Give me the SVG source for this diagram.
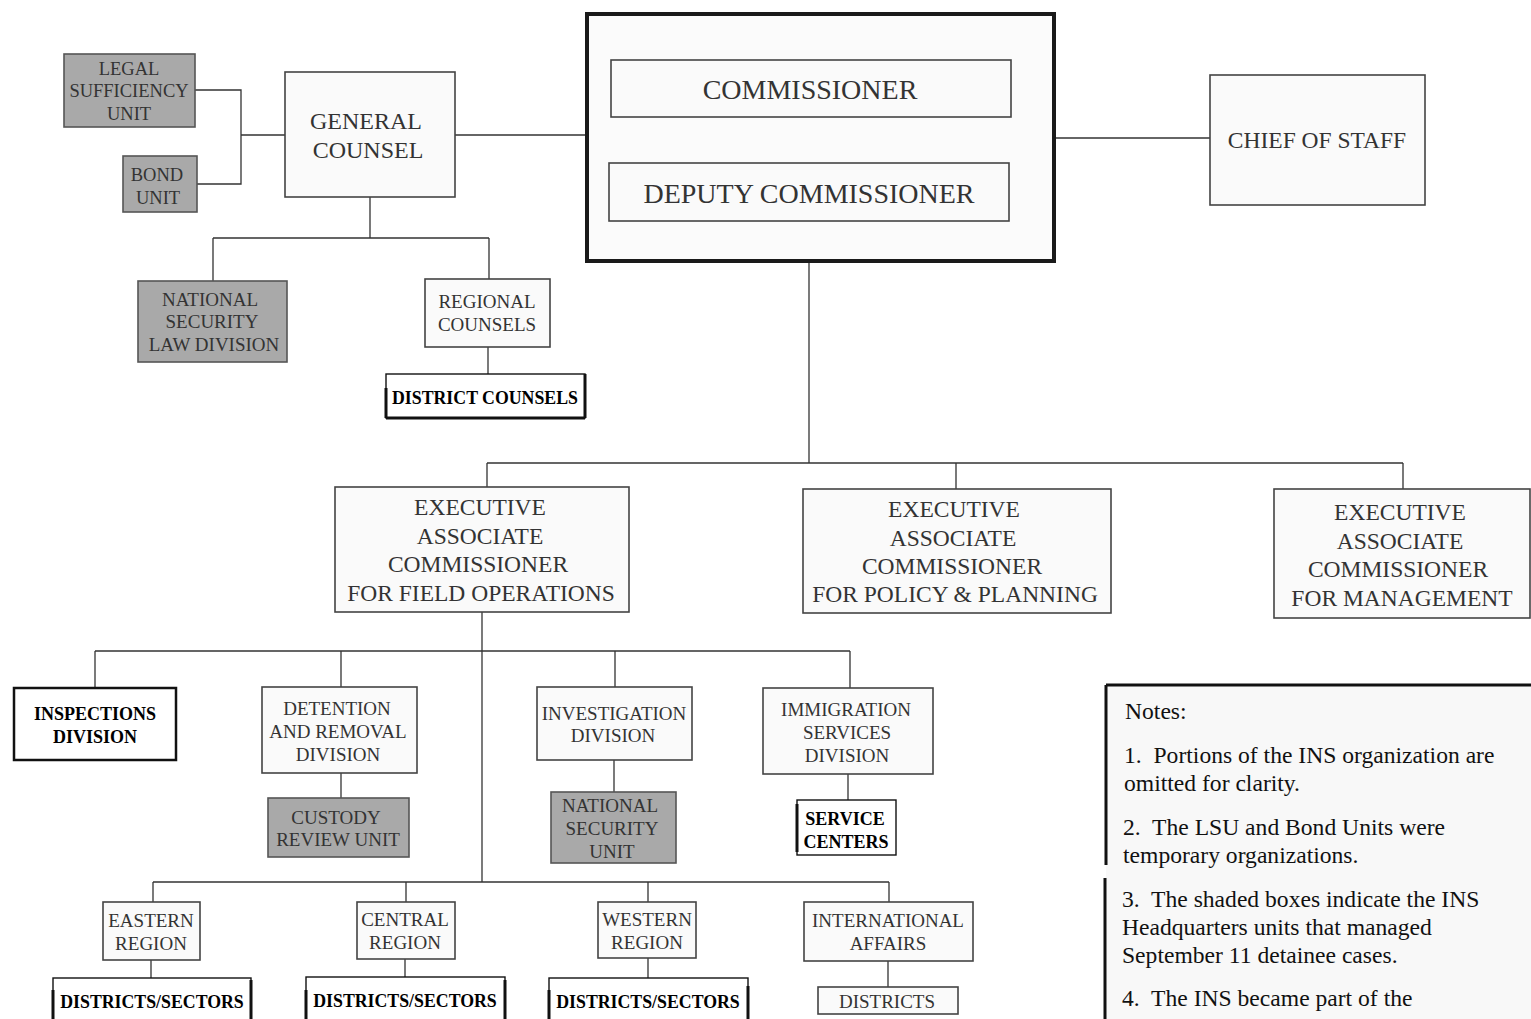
<svg xmlns="http://www.w3.org/2000/svg" width="1531" height="1019" viewBox="0 0 1531 1019">
<style>
.bx{fill:#fafafa;stroke:#444;stroke-width:1.6}
.sh{fill:#a9a9a9;stroke:#555;stroke-width:1.6}
.wb{fill:#fff;stroke:#111;stroke-width:1.4}
.t{font-family:"Liberation Serif","Times New Roman",serif;fill:#333;text-anchor:middle}
.tb{font-family:"Liberation Serif","Times New Roman",serif;fill:#000;font-weight:bold;text-anchor:middle}
.n{font-family:"Liberation Serif","Times New Roman",serif;fill:#111;font-size:23.6px}
.c{fill:none;stroke:#333;stroke-width:1.3}
.thk{fill:none;stroke:#111;stroke-width:3}
</style>
<rect width="1531" height="1019" fill="#fff"/>
<g id="connectors">
<path class="c" d="M195,90 H241 V184 H197 M241,135 H285"/>
<path class="c" d="M455,135 H587"/>
<path class="c" d="M1055,138 H1210"/>
<path class="c" d="M810,117 V163"/>
<path class="c" d="M809,221 V463"/>
<path class="c" d="M487,463 H1403 M487,463 V487 M956,463 V489 M1403,463 V490"/>
<path class="c" d="M370,197 V238 M213,238 H489 M213,238 V281 M489,238 V279"/>
<path class="c" d="M488,347 V374"/>
<path class="c" d="M482,612 V882"/>
<path class="c" d="M95,651 H850 M341,651 V687 M615,651 V687 M850,651 V688"/>
<path class="c" d="M95,651 V688" stroke-width="2.2"/>
<path class="c" d="M341,773 V798"/>
<path class="c" d="M614,760 V792" stroke="#999"/>
<path class="c" d="M848,774 V800"/>
<path class="c" d="M153,882 H889 M406,882 V902 M648,882 V902 M889,882 V902"/>
<path class="c" d="M153,882 V902" stroke="#aaa"/>
<path class="c" d="M151,960 V978 M405,959 V977 M648,958 V978 M888,961 V987"/>
</g>
<g id="legal-sufficiency-unit">
<rect class="sh" x="64" y="54" width="131" height="73"/>
<text class="t" font-size="18.5"><tspan x="129" y="75">LEGAL</tspan><tspan x="129" y="97">SUFFICIENCY</tspan><tspan x="129" y="120">UNIT</tspan></text>
</g>
<g id="bond-unit">
<rect class="sh" x="123" y="156" width="74" height="56"/>
<text class="t" font-size="18.5"><tspan x="157" y="181">BOND</tspan><tspan x="158" y="204">UNIT</tspan></text>
</g>
<g id="general-counsel">
<rect class="bx" x="285" y="72" width="170" height="125"/>
<text class="t" font-size="24"><tspan x="366" y="129">GENERAL</tspan><tspan x="368" y="158">COUNSEL</tspan></text>
</g>
<g id="commissioner-office">
<rect x="587" y="14" width="467" height="247" fill="#fbfbfb" stroke="#1a1a1a" stroke-width="4"/>
</g>
<g id="commissioner">
<rect class="bx" x="611" y="60" width="400" height="57"/>
<text class="t" font-size="28" x="810" y="99">COMMISSIONER</text>
</g>
<g id="deputy-commissioner">
<rect class="bx" x="609" y="163" width="400" height="58"/>
<text class="t" font-size="28" x="809" y="203">DEPUTY COMMISSIONER</text>
</g>
<g id="chief-of-staff">
<rect class="bx" x="1210" y="75" width="215" height="130"/>
<text class="t" font-size="23.5" x="1317" y="148">CHIEF OF STAFF</text>
</g>
<g id="national-security-law-division">
<rect class="sh" x="138" y="281" width="149" height="81"/>
<text class="t" font-size="19"><tspan x="210" y="306">NATIONAL</tspan><tspan x="212" y="328">SECURITY</tspan><tspan x="214" y="351">LAW DIVISION</tspan></text>
</g>
<g id="regional-counsels">
<rect class="bx" x="425" y="279" width="125" height="68"/>
<text class="t" font-size="19"><tspan x="487" y="308">REGIONAL</tspan><tspan x="487" y="331">COUNSELS</tspan></text>
</g>
<g id="district-counsels">
<rect class="wb" x="386" y="374" width="199" height="44"/>
<path class="thk" d="M386,388 V418 M585,374 V418 M386,418 H585"/>
<text class="tb" font-size="17.8" x="485" y="404">DISTRICT COUNSELS</text>
</g>
<g id="eac-field-operations">
<rect class="bx" x="335" y="487" width="294" height="125"/>
<text class="t" font-size="23.5"><tspan x="480" y="515">EXECUTIVE</tspan><tspan x="480" y="544">ASSOCIATE</tspan><tspan x="478" y="572">COMMISSIONER</tspan><tspan x="481" y="601">FOR FIELD OPERATIONS</tspan></text>
</g>
<g id="eac-policy-planning">
<rect class="bx" x="803" y="489" width="308" height="124"/>
<text class="t" font-size="23.5"><tspan x="954" y="517">EXECUTIVE</tspan><tspan x="953" y="546">ASSOCIATE</tspan><tspan x="952" y="574">COMMISSIONER</tspan><tspan x="955" y="602">FOR POLICY &amp; PLANNING</tspan></text>
</g>
<g id="eac-management">
<rect class="bx" x="1274" y="489" width="256" height="129"/>
<text class="t" font-size="23.5"><tspan x="1400" y="520">EXECUTIVE</tspan><tspan x="1400" y="549">ASSOCIATE</tspan><tspan x="1398" y="577">COMMISSIONER</tspan><tspan x="1402" y="606">FOR MANAGEMENT</tspan></text>
</g>
<g id="inspections-division">
<rect x="14" y="688" width="162" height="72" fill="#fff" stroke="#111" stroke-width="2.5"/>
<text class="tb" font-size="18"><tspan x="95" y="720">INSPECTIONS</tspan><tspan x="95" y="743">DIVISION</tspan></text>
</g>
<g id="detention-removal-division">
<rect class="bx" x="262" y="687" width="155" height="86"/>
<text class="t" font-size="19"><tspan x="337" y="715">DETENTION</tspan><tspan x="338" y="738">AND REMOVAL</tspan><tspan x="338" y="761">DIVISION</tspan></text>
</g>
<g id="custody-review-unit">
<rect class="sh" x="268" y="798" width="141" height="59"/>
<text class="t" font-size="19"><tspan x="336" y="824">CUSTODY</tspan><tspan x="338" y="846">REVIEW UNIT</tspan></text>
</g>
<g id="investigation-division">
<rect class="bx" x="537" y="687" width="155" height="73"/>
<text class="t" font-size="19"><tspan x="614" y="720">INVESTIGATION</tspan><tspan x="613" y="742">DIVISION</tspan></text>
</g>
<g id="national-security-unit">
<rect class="sh" x="551" y="792" width="125" height="71"/>
<text class="t" font-size="19"><tspan x="610" y="812">NATIONAL</tspan><tspan x="612" y="835">SECURITY</tspan><tspan x="612" y="858">UNIT</tspan></text>
</g>
<g id="immigration-services-division">
<rect class="bx" x="763" y="688" width="170" height="86"/>
<text class="t" font-size="19"><tspan x="846" y="716">IMMIGRATION</tspan><tspan x="847" y="739">SERVICES</tspan><tspan x="847" y="762">DIVISION</tspan></text>
</g>
<g id="service-centers">
<rect class="wb" x="797" y="800" width="99" height="55"/>
<path class="thk" d="M797,804 V852"/>
<text class="tb" font-size="18"><tspan x="845" y="825">SERVICE</tspan><tspan x="846" y="848">CENTERS</tspan></text>
</g>
<g id="eastern-region">
<rect class="bx" x="103" y="902" width="97" height="58"/>
<text class="t" font-size="19"><tspan x="151" y="927">EASTERN</tspan><tspan x="151" y="950">REGION</tspan></text>
</g>
<g id="central-region">
<rect class="bx" x="357" y="902" width="98" height="57"/>
<text class="t" font-size="19"><tspan x="405" y="926">CENTRAL</tspan><tspan x="405" y="949">REGION</tspan></text>
</g>
<g id="western-region">
<rect class="bx" x="598" y="902" width="98" height="56"/>
<text class="t" font-size="19"><tspan x="647" y="926">WESTERN</tspan><tspan x="647" y="949">REGION</tspan></text>
</g>
<g id="international-affairs">
<rect class="bx" x="804" y="902" width="169" height="59"/>
<text class="t" font-size="19"><tspan x="888" y="927">INTERNATIONAL</tspan><tspan x="888" y="950">AFFAIRS</tspan></text>
</g>
<g id="districts-sectors-eastern">
<rect class="wb" x="53" y="978" width="198" height="50"/>
<path class="thk" d="M53,990 V1019 M251,980 V1019"/>
<text class="tb" font-size="17.8" x="152" y="1008">DISTRICTS/SECTORS</text>
</g>
<g id="districts-sectors-central">
<rect class="wb" x="306" y="977" width="199" height="50"/>
<path class="thk" d="M306,990 V1019 M505,980 V1019"/>
<text class="tb" font-size="17.8" x="405" y="1007">DISTRICTS/SECTORS</text>
</g>
<g id="districts-sectors-western">
<rect class="wb" x="549" y="978" width="199" height="50"/>
<path class="thk" d="M549,990 V1019 M748,986 V1019"/>
<text class="tb" font-size="17.8" x="648" y="1008">DISTRICTS/SECTORS</text>
</g>
<g id="districts-international">
<rect class="bx" x="818" y="987" width="140" height="27"/>
<text class="t" font-size="19" x="887" y="1008">DISTRICTS</text>
</g>
<g id="notes">
<rect x="1106" y="685" width="430" height="340" fill="#f8f8f8" stroke="none"/>
<path d="M1106,685 H1531" stroke="#111" stroke-width="3"/>
<path d="M1106,685 V865 M1105,878 V1019" stroke="#111" stroke-width="3"/>
<text class="n" xml:space="preserve"><tspan x="1125" y="719">Notes:</tspan><tspan x="1124" y="763">1.  Portions of the INS organization are</tspan><tspan x="1124" y="791">omitted for clarity.</tspan><tspan x="1123" y="835">2.  The LSU and Bond Units were</tspan><tspan x="1123" y="863">temporary organizations.</tspan><tspan x="1122" y="907">3.  The shaded boxes indicate the INS</tspan><tspan x="1122" y="935">Headquarters units that managed</tspan><tspan x="1122" y="963">September 11 detainee cases.</tspan><tspan x="1122" y="1006">4.  The INS became part of the</tspan></text>
</g>
</svg>
